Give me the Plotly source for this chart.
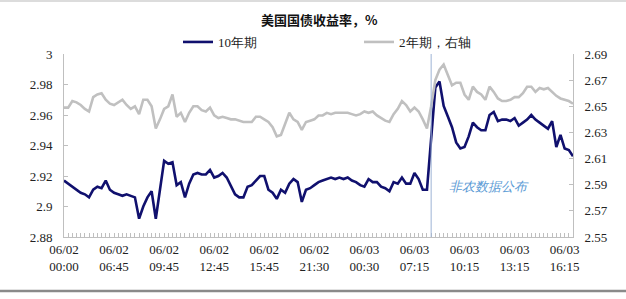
import plotly.graph_objects as go

# ---- data ----
tick_labels = ["06/02<br>00:00", "06/02<br>06:45", "06/02<br>09:45", "06/02<br>12:45",
               "06/02<br>15:45", "06/02<br>21:30", "06/03<br>00:30", "06/03<br>07:15",
               "06/03<br>10:15", "06/03<br>13:15", "06/03<br>16:15"]
label_step = 12

ten_year = [2.917, 2.915, 2.913, 2.911, 2.909, 2.908, 2.906, 2.911, 2.913, 2.912,
            2.917, 2.911, 2.909, 2.908, 2.907, 2.908, 2.907, 2.906, 2.892, 2.900,
            2.906, 2.910, 2.892, 2.912, 2.930, 2.928, 2.929, 2.914, 2.916, 2.906,
            2.915, 2.921, 2.922, 2.921, 2.921, 2.924, 2.919, 2.920, 2.922, 2.919,
            2.914, 2.908, 2.906, 2.906, 2.913, 2.914, 2.917, 2.920, 2.920, 2.911,
            2.909, 2.905, 2.911, 2.909, 2.915, 2.918, 2.916, 2.903, 2.911, 2.912,
            2.914, 2.916, 2.917, 2.918, 2.919, 2.918, 2.919, 2.918, 2.919, 2.917,
            2.916, 2.914, 2.913, 2.918, 2.916, 2.916, 2.913, 2.912, 2.910, 2.916,
            2.915, 2.919, 2.915, 2.915, 2.922, 2.918, 2.911, 2.911, 2.945, 2.978,
            2.982, 2.966, 2.959, 2.952, 2.942, 2.938, 2.939, 2.946, 2.955, 2.952,
            2.950, 2.950, 2.960, 2.962, 2.956, 2.957, 2.957, 2.956, 2.958, 2.953,
            2.955, 2.957, 2.960, 2.957, 2.955, 2.953, 2.951, 2.956, 2.939, 2.947,
            2.938, 2.937, 2.933]

two_year = [2.649, 2.649, 2.654, 2.653, 2.651, 2.648, 2.646, 2.657, 2.659, 2.660,
            2.655, 2.652, 2.651, 2.653, 2.655, 2.651, 2.648, 2.650, 2.644, 2.655,
            2.655, 2.650, 2.633, 2.640, 2.648, 2.650, 2.659, 2.642, 2.645, 2.638,
            2.645, 2.650, 2.650, 2.647, 2.646, 2.649, 2.643, 2.641, 2.642, 2.641,
            2.640, 2.640, 2.639, 2.638, 2.638, 2.638, 2.642, 2.642, 2.640, 2.638,
            2.634, 2.627, 2.628, 2.636, 2.645, 2.640, 2.638, 2.632, 2.638, 2.639,
            2.640, 2.643, 2.643, 2.645, 2.644, 2.645, 2.645, 2.645, 2.645, 2.644,
            2.643, 2.644, 2.646, 2.645, 2.646, 2.643, 2.641, 2.639, 2.638, 2.644,
            2.648, 2.654, 2.651, 2.646, 2.649, 2.646, 2.640, 2.633, 2.650, 2.670,
            2.678, 2.682, 2.674, 2.666, 2.668, 2.668, 2.659, 2.655, 2.665, 2.661,
            2.659, 2.655, 2.665, 2.661, 2.656, 2.654, 2.654, 2.655, 2.657, 2.657,
            2.660, 2.665, 2.665, 2.661, 2.664, 2.663, 2.664, 2.661, 2.658, 2.656,
            2.655, 2.654, 2.652]

left_ticks = [2.88, 2.90, 2.92, 2.94, 2.96, 2.98, 3.00]
left_tick_text = ["2.88", "2.9", "2.92", "2.94", "2.96", "2.98", "3"]
right_ticks = [2.55, 2.57, 2.59, 2.61, 2.63, 2.65, 2.67, 2.69]
right_tick_text = ["2.55", "2.57", "2.59", "2.61", "2.63", "2.65", "2.67", "2.69"]

release_index = 88
release_label = "非农数据公布"
title_text = "美国国债收益率，%"
name_10 = "10年期"
name_2 = "2年期，右轴"

x = list(range(len(ten_year)))
tick_pos = [i * label_step for i in range(len(tick_labels))]

FONT = "Liberation Serif"
AXIS_COLOR = "#bfbfbf"

fig = go.Figure()
fig.add_trace(go.Scatter(x=x, y=ten_year, name=name_10, mode="lines",
                         line=dict(color="#10106e", width=2.6), yaxis="y"))
fig.add_trace(go.Scatter(x=x, y=two_year, name=name_2, mode="lines",
                         line=dict(color="#c0c0c0", width=2.6), yaxis="y2"))

fig.add_shape(type="line", xref="x", yref="paper", x0=release_index, x1=release_index,
              y0=0, y1=1, line=dict(color="#9db3d6", width=1))
fig.add_annotation(x=release_index + 3.8, y=2.9134, xref="x", yref="y", text=release_label,
                   showarrow=False, xanchor="left", yanchor="middle",
                   font=dict(family=FONT, size=13, color="#5b9bd5", style="italic"))

# page rules (top faint, bottom dark)
fig.add_shape(type="line", xref="paper", yref="paper", x0=-0.13, x1=1.11,
              y0=1 - (291 - 54) / 183, y1=1 - (291 - 54) / 183,
              line=dict(color="#8a8a8a", width=2.5))
fig.add_shape(type="line", xref="paper", yref="paper", x0=-0.13, x1=1.11,
              y0=1 + 53 / 183, y1=1 + 53 / 183,
              line=dict(color="#d0d0d0", width=1.5))

fig.update_layout(
    width=626, height=299,
    margin=dict(l=64, r=53, t=54, b=62),
    paper_bgcolor="white", plot_bgcolor="white",
    font=dict(family=FONT, size=13, color="#222"),
    title=dict(text=title_text, x=0.51, xanchor="center", y=1 - 20 / 299, yanchor="middle",
               font=dict(family="Noto Sans CJK SC", size=13, color="#111", weight="bold")),
    showlegend=True,
    legend=dict(orientation="h", x=(178 - 64) / 509, xanchor="left", y=1 + 12 / 183,
                yanchor="middle", bgcolor="rgba(0,0,0,0)", entrywidth=136,
                entrywidthmode="pixels", font=dict(family=FONT, size=13, color="#222"),
                itemwidth=30, tracegroupgap=0),
    xaxis=dict(range=[0, len(ten_year) - 1], tickvals=tick_pos, ticktext=tick_labels,
               showline=True, linecolor=AXIS_COLOR, linewidth=1, ticks="inside", ticklen=4,
               tickcolor=AXIS_COLOR, showgrid=False, zeroline=False,
               tickfont=dict(family=FONT, size=13, color="#222"),
               minor=dict(dtick=1, tick0=0, ticks="inside", ticklen=4, tickcolor=AXIS_COLOR,
                          showgrid=False)),
    yaxis=dict(range=[2.88, 3.0], tickvals=left_ticks, ticktext=left_tick_text,
               showline=True, linecolor=AXIS_COLOR, linewidth=1, ticks="inside", ticklen=4,
               tickcolor=AXIS_COLOR, showgrid=False, zeroline=False, ticklabelstandoff=8,
               tickfont=dict(family=FONT, size=13, color="#222")),
    yaxis2=dict(range=[2.55, 2.69], tickvals=right_ticks, ticktext=right_tick_text,
                overlaying="y", side="right", showline=True, linecolor=AXIS_COLOR, linewidth=1,
                ticks="inside", ticklen=4, tickcolor=AXIS_COLOR, showgrid=False,
                zeroline=False, ticklabelstandoff=8,
                tickfont=dict(family=FONT, size=13, color="#222")),
)

fig.write_html("out.html")
